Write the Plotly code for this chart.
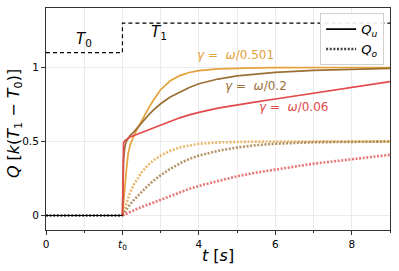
import plotly.graph_objects as go

# ---- data ----
t = [2.0, 2.01, 2.03, 2.06, 2.1, 2.15, 2.2, 2.3, 2.4, 2.5, 2.65, 2.8, 3.0, 3.25, 3.5,
     3.75, 4.0, 4.5, 5.0, 5.5, 6.0, 7.0, 8.0, 9.0]

qu_0501 = [0, 0.04, 0.10, 0.18, 0.30, 0.42, 0.475, 0.54, 0.59, 0.64, 0.71, 0.775, 0.85,
           0.91, 0.945, 0.966, 0.979, 0.991, 0.996, 0.998, 0.999, 1.0, 1.0, 1.0]
qo_0501 = [0, 0.008, 0.024, 0.048, 0.08, 0.12, 0.155, 0.21, 0.255, 0.29, 0.335, 0.37, 0.405,
           0.437, 0.46, 0.475, 0.485, 0.494, 0.498, 0.499, 0.5, 0.5, 0.5, 0.5]

qu_02 = [0, 0.20, 0.38, 0.46, 0.50, 0.52, 0.54, 0.565, 0.595, 0.63, 0.67, 0.71, 0.755,
         0.80, 0.835, 0.865, 0.89, 0.922, 0.943, 0.957, 0.967, 0.98, 0.989, 0.994]
qo_02 = [0, 0.004, 0.012, 0.024, 0.04, 0.058, 0.075, 0.105, 0.133, 0.16, 0.198, 0.232, 0.272,
         0.315, 0.352, 0.382, 0.405, 0.437, 0.46, 0.475, 0.485, 0.495, 0.498, 0.5]

qu_006 = [0, 0.45, 0.49, 0.505, 0.515, 0.522, 0.53, 0.54, 0.55, 0.56, 0.575, 0.59, 0.612,
          0.637, 0.66, 0.68, 0.697, 0.725, 0.748, 0.768, 0.787, 0.825, 0.865, 0.905]
qo_006 = [0, 0.001, 0.004, 0.007, 0.012, 0.018, 0.024, 0.035, 0.047, 0.057, 0.073, 0.088, 0.11,
          0.135, 0.158, 0.18, 0.2, 0.235, 0.265, 0.29, 0.31, 0.35, 0.38, 0.41]

t_pre = [0, 2]
q_pre = [0, 0]

t_T = [0, 2, 2, 9]
T_level = [1.1, 1.1, 1.3, 1.3]

x_tickvals = [0, 2, 4, 6, 8]
x_ticktext = ["0", "<i>t</i><sub>0</sub>", "4", "6", "8"]
y_tickvals = [0, 0.5, 1]
y_ticktext = ["0", "0.5", "1"]

labels = ["<i>γ</i> =  <i>ω</i>/0.501", "<i>γ</i> =  <i>ω</i>/0.2", "<i>γ</i> =  <i>ω</i>/0.06"]
label_pos = [(4.96, 1.084), (5.49, 0.875), (6.47, 0.733)]

C_Y = "#E5A23A"
C_B = "#9A7035"
C_R = "#E2494B"

FONT = "DejaVu Sans"
DOT = "2px,1.6px"

fig = go.Figure()

# dashed temperature step
fig.add_trace(go.Scatter(x=t_T, y=T_level, mode="lines", showlegend=False,
                         line=dict(color="black", width=1.2, dash="4px,3px")))

for qu, qo, c in [(qu_0501, qo_0501, C_Y), (qu_02, qo_02, C_B), (qu_006, qo_006, C_R)]:
    fig.add_trace(go.Scatter(x=t, y=qo, mode="lines", showlegend=False, opacity=0.75,
                             line=dict(color=c, width=2.6, dash=DOT)))
    fig.add_trace(go.Scatter(x=t, y=qu, mode="lines", showlegend=False,
                             line=dict(color=c, width=1.7)))

# pre-t0 segments (black)
fig.add_trace(go.Scatter(x=t_pre, y=q_pre, mode="lines", showlegend=False,
                         line=dict(color="black", width=1.2)))
fig.add_trace(go.Scatter(x=t_pre, y=q_pre, mode="lines", showlegend=False, opacity=0.75,
                         line=dict(color="black", width=2.6, dash=DOT)))

# legend entries
fig.add_trace(go.Scatter(x=[None], y=[None], mode="lines", name="<i>Q<sub>u</sub></i>",
                         line=dict(color="black", width=1.7)))
fig.add_trace(go.Scatter(x=[None], y=[None], mode="lines", name="<i>Q<sub>o</sub></i>",
                         opacity=0.75, line=dict(color="black", width=2.6, dash=DOT)))

annotations = []
for txt, (xx, yy), c in zip(labels, label_pos, [C_Y, C_B, C_R]):
    annotations.append(dict(x=xx, y=yy, text=txt, showarrow=False,
                            xanchor="center", yanchor="middle",
                            font=dict(family=FONT, size=12, color=c)))
annotations.append(dict(x=1.0, y=1.19, text="<i>T</i><sub>0</sub>", showarrow=False,
                        xanchor="center", yanchor="middle",
                        font=dict(family=FONT, size=15, color="black")))
annotations.append(dict(x=2.96, y=1.235, text="<i>T</i><sub>1</sub>", showarrow=False,
                        xanchor="center", yanchor="middle",
                        font=dict(family=FONT, size=15, color="black")))
# axis titles
annotations.append(dict(xref="paper", yref="paper", x=0.5, y=-0.113,
                        xanchor="center", yanchor="middle",
                        text="<i>t</i> [<i>s</i>]", showarrow=False,
                        font=dict(family=FONT, size=16, color="black")))
annotations.append(dict(xref="paper", yref="paper", x=-0.093, y=0.477, textangle=-90,
                        xanchor="center", yanchor="middle",
                        text="<i>Q</i> [<i>k</i>(<i>T</i><sub>1</sub> − <i>T</i><sub>0</sub>)]",
                        showarrow=False, font=dict(family=FONT, size=16, color="black")))

fig.update_layout(
    width=399, height=271, autosize=False,
    margin=dict(l=46, r=9, t=8, b=41),
    paper_bgcolor="white", plot_bgcolor="white",
    font=dict(family=FONT, size=10.5, color="black"),
    annotations=annotations,
    legend=dict(x=0.983, y=0.977, xanchor="right", yanchor="top",
                bgcolor="rgba(255,255,255,0.9)", bordercolor="#d0d0d0", borderwidth=1,
                font=dict(family=FONT, size=13), itemwidth=30, tracegroupgap=0),
    xaxis=dict(range=[0, 9], tickvals=x_tickvals, ticktext=x_ticktext, automargin=False,
               ticks="outside", ticklen=4, tickcolor="#333", showline=True, mirror=True,
               linecolor="#333", linewidth=1, showgrid=True, gridcolor="#ebebeb",
               zeroline=False,
               minor=dict(dtick=1, tick0=0, ticks="outside", ticklen=2, tickcolor="#333",
                          showgrid=True, gridcolor="#ebebeb")),
    yaxis=dict(range=[-0.098, 1.402], tickvals=y_tickvals, ticktext=y_ticktext,
               automargin=False,
               ticks="outside", ticklen=4, tickcolor="#333", showline=True, mirror=True,
               linecolor="#333", linewidth=1, showgrid=True, gridcolor="#ebebeb",
               zeroline=False),
)

fig.write_html("out.html", config={"responsive": False, "displayModeBar": False},
               post_script="document.body.style.margin='0';document.body.style.padding='0';"
                           "document.body.style.overflow='hidden';")
